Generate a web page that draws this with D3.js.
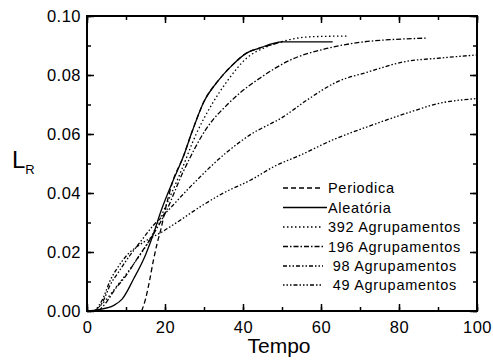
<!DOCTYPE html>
<html>
<head>
<meta charset="UTF-8">
<title>L_R vs Tempo</title>
<style>
  body { margin: 0; background: #fff; }
  .tick text { font-family: "Liberation Sans", Arial, sans-serif; font-size: 16.5px; fill: #000; }
  .legend text { font-family: "Liberation Sans", Arial, sans-serif; font-size: 14.5px; letter-spacing: 0.7px; }
</style>
<script src="https://d3js.org/d3.v7.min.js"></script>
</head>
<body>
<div id="chart"></div>
<script>
// series (Tempo, L_R)
const periodicaT = [14, 15, 16, 17, 18, 19, 20, 22, 24.6, 27, 30, 33.6, 37, 41, 44, 50];
const periodicaL = [0, 0.004, 0.010, 0.017, 0.023, 0.028, 0.034, 0.044, 0.052, 0.061, 0.071, 0.078, 0.083, 0.0875, 0.089, 0.0912];

const aleatoriaT = [0, 3, 7, 9, 12, 15, 17, 19, 22, 24.6, 27, 30, 33.6, 37, 41, 44, 50, 63];
const aleatoriaL = [0, 0.0005, 0.002, 0.004, 0.011, 0.019, 0.026, 0.034, 0.044, 0.052, 0.061, 0.071, 0.078, 0.083, 0.0875, 0.089, 0.0912, 0.0912];

const g392T = [2, 5, 8, 12, 16, 20, 24, 28, 32, 36, 41, 46, 52, 58, 67];
const g392L = [0, 0.004, 0.009, 0.016, 0.024, 0.035, 0.047, 0.060, 0.070, 0.078, 0.0858, 0.0895, 0.092, 0.093, 0.0932];

const g196T = [3, 5, 7, 10, 13, 17, 20, 24.6, 30.7, 36, 39.2, 44.4, 52, 61.5, 70.8, 78, 87];
const g196L = [0, 0.003, 0.007, 0.012, 0.018, 0.026, 0.033, 0.047, 0.062, 0.070, 0.0739, 0.079, 0.085, 0.089, 0.0912, 0.092, 0.0925];

const g98T = [2, 4, 6, 8, 10, 14, 17, 20, 26.4, 36, 41.8, 50.3, 56.4, 64, 72, 81, 91, 100];
const g98L = [0, 0.003, 0.009, 0.013, 0.017, 0.024, 0.029, 0.033, 0.042, 0.054, 0.0597, 0.0658, 0.0715, 0.0776, 0.081, 0.0844, 0.0858, 0.0868];

const g49T = [2, 4, 6, 8, 10.3, 13, 16, 18.7, 23, 29, 35, 42, 48, 55, 63, 72, 83, 90, 100];
const g49L = [0, 0.004, 0.0105, 0.015, 0.019, 0.022, 0.0245, 0.0264, 0.030, 0.0353, 0.040, 0.0444, 0.049, 0.053, 0.058, 0.0625, 0.0675, 0.0703, 0.072];

const seriesNames = ["Periodica", "Aleatória", "392 Agrupamentos", "196 Agrupamentos", " 98 Agrupamentos", " 49 Agrupamentos"];
const xTicks = [0, 20, 40, 60, 80, 100];
const yTicks = [0, 0.02, 0.04, 0.06, 0.08, 0.10];

const series = [
  {name: seriesNames[0], t: periodicaT, l: periodicaL, dash: "5,3"},
  {name: seriesNames[1], t: aleatoriaT, l: aleatoriaL, dash: null},
  {name: seriesNames[2], t: g392T, l: g392L, dash: "1.5,2.5"},
  {name: seriesNames[3], t: g196T, l: g196L, dash: "5,2,1.5,2"},
  {name: seriesNames[4], t: g98T, l: g98L, dash: "4,2,1.5,2,1.5,2"},
  {name: seriesNames[5], t: g49T, l: g49L, dash: "1.5,2,1.5,2,1.5,2,4,2"}
];

const W = 493, H = 362;
const svg = d3.select("#chart").append("svg")
    .attr("width", W).attr("height", H);

const x = d3.scaleLinear().domain([0, 100]).range([87, 477]);
const y = d3.scaleLinear().domain([0, 0.10]).range([311, 16]);

const minorX = d3.range(0, 101, 10);
const minorY = d3.range(0, 0.1001, 0.01);

// bottom
svg.append("g").attr("transform", `translate(0,${y(0)})`)
    .call(d3.axisBottom(x).tickValues(xTicks).tickFormat(d3.format("d")).tickSize(-7).tickSizeOuter(0).tickPadding(10));
svg.append("g").attr("transform", `translate(0,${y(0)})`)
    .call(d3.axisBottom(x).tickValues(minorX).tickFormat("").tickSize(-4).tickSizeOuter(0));
// top
svg.append("g").attr("transform", `translate(0,${y(0.1)})`)
    .call(d3.axisTop(x).tickValues(xTicks).tickFormat("").tickSize(-7).tickSizeOuter(0));
svg.append("g").attr("transform", `translate(0,${y(0.1)})`)
    .call(d3.axisTop(x).tickValues(minorX).tickFormat("").tickSize(-4).tickSizeOuter(0));
// left
svg.append("g").attr("transform", `translate(${x(0)},0)`)
    .call(d3.axisLeft(y).tickValues(yTicks).tickFormat(d3.format(".2f")).tickSize(-7).tickSizeOuter(0).tickPadding(6));
svg.append("g").attr("transform", `translate(${x(0)},0)`)
    .call(d3.axisLeft(y).tickValues(minorY).tickFormat("").tickSize(-4).tickSizeOuter(0));
// right
svg.append("g").attr("transform", `translate(${x(100)},0)`)
    .call(d3.axisRight(y).tickValues(yTicks).tickFormat("").tickSize(-7).tickSizeOuter(0));
svg.append("g").attr("transform", `translate(${x(100)},0)`)
    .call(d3.axisRight(y).tickValues(minorY).tickFormat("").tickSize(-4).tickSizeOuter(0));

svg.selectAll(".domain").remove();
svg.selectAll(".tick line").attr("stroke", "#000").attr("stroke-width", 1.5);
svg.selectAll(".tick text").attr("letter-spacing", "0.5px");

// frame
svg.append("rect")
    .attr("x", x(0)).attr("y", y(0.1))
    .attr("width", x(100) - x(0)).attr("height", y(0) - y(0.1))
    .attr("fill", "none").attr("stroke", "#000").attr("stroke-width", 2);

// curves
const line = d3.line()
    .x(d => x(d[0]))
    .y(d => y(d[1]))
    .curve(d3.curveMonotoneX);

svg.append("g").selectAll("path")
    .data(series)
    .join("path")
    .attr("d", s => line(s.t.map((t, i) => [t, s.l[i]])))
    .attr("fill", "none")
    .attr("stroke", "#000")
    .attr("stroke-width", 1.3)
    .attr("stroke-dasharray", s => s.dash);

// legend
const legend = svg.append("g").attr("class", "legend");
const rowY = [188, 207.5, 227, 246.5, 266, 285];
series.forEach((s, i) => {
    legend.append("line")
        .attr("x1", 283).attr("x2", i === 1 ? 327 : 323)
        .attr("y1", rowY[i]).attr("y2", rowY[i])
        .attr("stroke", "#000").attr("stroke-width", 1.3)
        .attr("stroke-dasharray", s.dash);
    legend.append("text")
        .attr("x", 328).attr("y", rowY[i] + 5)
        .attr("xml:space", "preserve")
        .style("white-space", "pre")
        .text(s.name);
});

// axis titles
svg.append("text")
    .attr("x", 279).attr("y", 353)
    .attr("text-anchor", "middle")
    .style("font-family", "Liberation Sans, Arial, sans-serif")
    .style("font-size", "21px")
    .text("Tempo");

const ylab = svg.append("text")
    .attr("x", 12).attr("y", 168)
    .style("font-family", "Liberation Sans, Arial, sans-serif")
    .style("font-size", "24px");
ylab.append("tspan").text("L");
ylab.append("tspan").attr("dy", 6).style("font-size", "13px").text("R");
</script>
</body>
</html>
